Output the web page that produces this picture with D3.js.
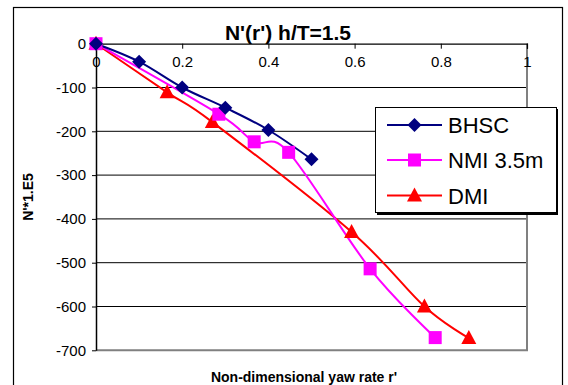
<!DOCTYPE html>
<html><head><meta charset="utf-8">
<script src="https://cdn.jsdelivr.net/npm/d3@7"></script>
<style>body{margin:0;background:#fff;} svg{display:block;font-family:"Liberation Sans",Arial,sans-serif;}</style>
</head><body>
<svg id="c" width="568" height="385"></svg>
<script>
const titleText = "N'(r') h/T=1.5";
const xLabel = "Non-dimensional yaw rate r'";
const yLabel = "N'*1.E5";
const xTicks = [0, 0.2, 0.4, 0.6, 0.8, 1];
const yTicks = [0, -100, -200, -300, -400, -500, -600, -700];
const seriesNames = ["BHSC", "NMI 3.5m", "DMI"];
const seriesColors = ["#000080", "#FF00FF", "#FF0000"];
const seriesMarkers = ["diamond", "square", "triangle"];
const bhscX = [0, 0.1, 0.2, 0.3, 0.4, 0.5];
const bhscY = [0, -41, -100, -146, -197, -264];
const nmiX = [0, 0.285, 0.367, 0.447, 0.636, 0.787];
const nmiY = [0, -161, -224, -248, -514, -671];
const dmiX = [0, 0.165, 0.27, 0.593, 0.762, 0.865];
const dmiY = [0, -111, -179, -430, -600, -672];

const svg = d3.select("#c");
const L = 96, R = 527, T = 43.7, B = 350.3;
const x = d3.scaleLinear().domain([0, 1]).range([L, R]);
const y = d3.scaleLinear().domain([0, -700]).range([T, B]);

// outer border
svg.append("rect").attr("x", 13.5).attr("y", 7.5).attr("width", 549).attr("height", 400)
  .attr("fill", "none").attr("stroke", "#000").attr("stroke-width", 1.2);

// gridlines
svg.append("g").selectAll("line").data(yTicks.filter(d => d !== 0 && d !== -700)).join("line")
  .attr("x1", L).attr("x2", R).attr("y1", d => y(d)).attr("y2", d => y(d))
  .attr("stroke", "#000").attr("stroke-width", 1);

// plot area right/bottom border (gray)
svg.append("path").attr("d", `M${L},${B}H${R}V${T}`)
  .attr("fill", "none").attr("stroke", "#808080").attr("stroke-width", 2);

// x axis at top (y=0)
const xAxis = d3.axisBottom(x).tickValues(xTicks).tickSize(5).tickPadding(8)
  .tickFormat(d => String(d));
const gx = svg.append("g").attr("transform", `translate(0,${T})`).call(xAxis);
gx.select(".domain").attr("stroke", "#000").attr("stroke-width", 1.2);
gx.selectAll(".tick line").attr("stroke", "#000");
gx.selectAll("text").attr("font-size", 15).attr("fill", "#000")
  .attr("font-family", "Liberation Sans, Arial, sans-serif");

// y axis
const yAxis = d3.axisLeft(y).tickValues(yTicks).tickSize(4).tickPadding(6).tickSizeOuter(0)
  .tickFormat(d => String(d));
const gy = svg.append("g").attr("transform", `translate(${L},0)`).call(yAxis);
gy.select(".domain").attr("stroke", "#000").attr("stroke-width", 1.5);
gy.selectAll(".tick line").attr("stroke", "#000");
gy.selectAll("text").attr("font-size", 15).attr("fill", "#000")
  .attr("font-family", "Liberation Sans, Arial, sans-serif");

// title & labels
svg.append("text").attr("x", 288).attr("y", 40).attr("text-anchor", "middle")
  .attr("font-size", 21).attr("font-weight", "bold").text(titleText);
svg.append("text").attr("x", 304).attr("y", 382).attr("text-anchor", "middle")
  .attr("font-size", 14).attr("font-weight", "bold").text(xLabel);
svg.append("text").attr("transform", "translate(33,197) rotate(-90)").attr("text-anchor", "middle")
  .attr("font-size", 14).attr("font-weight", "bold").text(yLabel);

// series
const data = [
  bhscX.map((v, i) => [v, bhscY[i]]),
  nmiX.map((v, i) => [v, nmiY[i]]),
  dmiX.map((v, i) => [v, dmiY[i]])
];
const line = d3.line().x(d => x(d[0])).y(d => y(d[1])).curve(d3.curveCatmullRom.alpha(0));

function marker(g, type, cx, cy, color) {
  if (type === "diamond") {
    g.append("path").attr("d", `M${cx},${cy-7}L${cx+7},${cy}L${cx},${cy+7}L${cx-7},${cy}Z`).attr("fill", color);
  } else if (type === "square") {
    g.append("rect").attr("x", cx - 6.5).attr("y", cy - 6.5).attr("width", 13).attr("height", 13).attr("fill", color);
  } else {
    g.append("path").attr("d", `M${cx},${cy-8}L${cx+7.5},${cy+6}L${cx-7.5},${cy+6}Z`).attr("fill", color);
  }
}

const order = [2, 1, 0];
order.forEach(i => {
  svg.append("path").datum(data[i]).attr("d", line)
    .attr("fill", "none").attr("stroke", seriesColors[i]).attr("stroke-width", 2);
});
order.forEach(i => {
  const g = svg.append("g");
  data[i].forEach(d => marker(g, seriesMarkers[i], x(d[0]), y(d[1]), seriesColors[i]));
});

// legend
const lg = svg.append("g");
lg.append("rect").attr("x", 377).attr("y", 109).attr("width", 181).attr("height", 106).attr("fill", "#000");
lg.append("rect").attr("x", 375.5).attr("y", 107.5).attr("width", 181).attr("height", 105)
  .attr("fill", "#fff").attr("stroke", "#000").attr("stroke-width", 1);
const legY = [125, 160, 195.5];
seriesNames.forEach((n, i) => {
  lg.append("line").attr("x1", 387).attr("x2", 442).attr("y1", legY[i]).attr("y2", legY[i])
    .attr("stroke", seriesColors[i]).attr("stroke-width", 2);
  marker(lg, seriesMarkers[i], 414.5, legY[i], seriesColors[i]);
  lg.append("text").attr("x", 448).attr("y", legY[i] + 8).attr("font-size", 22).text(n);
});
</script>
</body></html>
